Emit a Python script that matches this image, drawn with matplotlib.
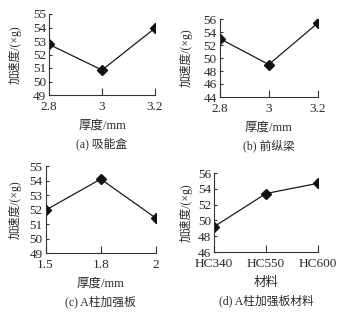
import matplotlib
matplotlib.use("Agg")
import matplotlib.pyplot as plt

plt.rcParams['font.family'] = ['Liberation Serif', 'Noto Sans CJK SC', 'DejaVu Sans']

# data
x_a = ["2.8", "3", "3.2"]
y_a = [52.75, 50.85, 53.95]
x_b = ["2.8", "3", "3.2"]
y_b = [53.0, 49.0, 55.4]
x_c = ["1.5", "1.8", "2"]
y_c = [51.95, 54.1, 51.4]
x_d = ["HC340", "HC550", "HC600"]
y_d = [49.2, 53.4, 54.7]

ylab = "加速度/(×g)"
xlabels = ["厚度/mm", "厚度/mm", "厚度/mm", "材料"]
captions = ["(a) 吸能盒", "(b) 前纵梁", "(c) A柱加强板", "(d) A柱加强板材料"]
ylims = [(49, 55, 1), (44, 56, 2), (49, 55, 1), (46, 56, 2)]

W, H = 342, 318
fig = plt.figure(figsize=(W / 100, H / 100), dpi=100)
fig.patch.set_facecolor("white")

# pixel boxes: left, right, top, bottom
boxes = [(49, 155, 14, 95), (219.5, 318, 19, 97), (45.5, 156, 166, 253), (214, 318, 173, 252)]
ylab_x = [15, 186, 15, 186]
datasets = [(x_a, y_a), (x_b, y_b), (x_c, y_c), (x_d, y_d)]
tc = "#2a2a2a"
fam = ['Liberation Serif', 'Noto Sans CJK SC']

for i, ((l, r, t, b), (xs, ys)) in enumerate(zip(boxes, datasets)):
    ax = fig.add_axes([l / W, 1 - b / H, (r - l) / W, (b - t) / H])
    pos = list(range(len(xs)))
    ax.plot(pos, ys, color="#1a1a1a", lw=0.9, marker="D", ms=4.8, mfc="#111", mec="#111")
    ax.set_xlim(pos[0], pos[-1])
    lo, hi, st = ylims[i]
    ax.set_ylim(lo, hi)
    ax.set_yticks(list(range(lo, hi + 1, st)))
    ax.set_xticks(pos)
    ax.set_xticklabels(xs)
    for s in ["top", "right"]:
        ax.spines[s].set_visible(False)
    for s in ["left", "bottom"]:
        ax.spines[s].set_color("#333")
        ax.spines[s].set_linewidth(0.8)
    ax.tick_params(axis="x", direction="in", length=5, width=0.8, color="#333",
                   labelsize=9.5, labelcolor=tc, pad=4.5)
    ax.tick_params(axis="y", direction="in", length=2.5, width=0.8, color="#333",
                   labelsize=9.5, labelcolor=tc, pad=2)
    for lab in ax.get_xticklabels() + ax.get_yticklabels():
        lab.set_fontfamily(fam)
    ax.set_ylabel(ylab, fontsize=8.5, color=tc, family=fam, va="center")
    ax.yaxis.set_label_coords((ylab_x[i] - l) / (r - l), 0.5)
    cx = (l + r) / 2
    fig.text(cx / W, 1 - (b + 31) / H, xlabels[i], ha="center", va="center",
             fontsize=9, color=tc, family=fam)
    fig.text(cx / W, 1 - (b + 49) / H, captions[i], ha="center", va="center",
             fontsize=8.5, color=tc, family=fam)

fig.savefig("out.png", dpi=100, facecolor="white")
